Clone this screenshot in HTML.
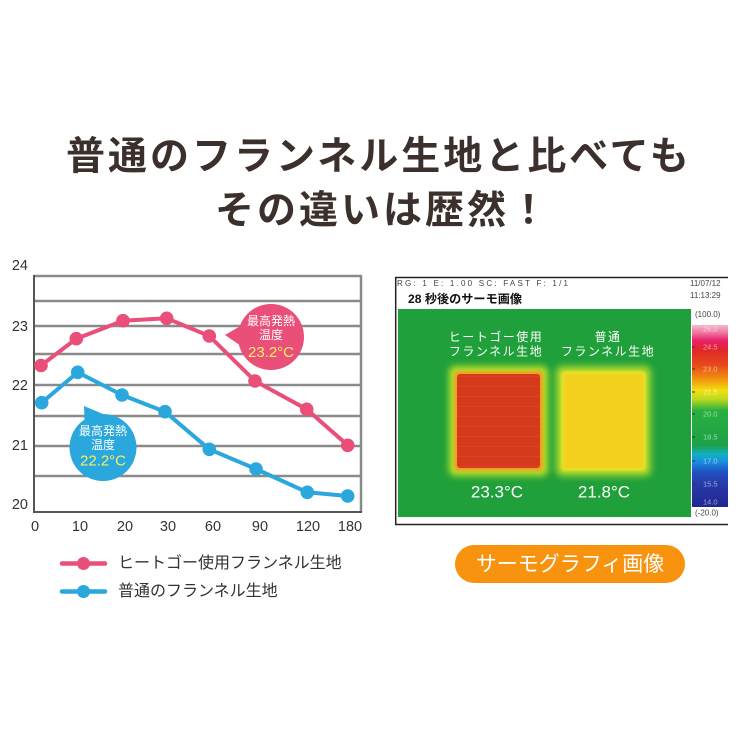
<!DOCTYPE html>
<html><head><meta charset="utf-8"><style>
html,body{margin:0;padding:0;background:#fff;}
svg{display:block;}
</style></head><body>
<svg width="750" height="750" viewBox="0 0 750 750" xmlns="http://www.w3.org/2000/svg">
<defs>
<linearGradient id="cb" x1="0" y1="0" x2="0" y2="1">
<stop offset="0" stop-color="#f4bcc8"/>
<stop offset="0.045" stop-color="#f070a0"/>
<stop offset="0.085" stop-color="#e8206a"/>
<stop offset="0.14" stop-color="#e02828"/>
<stop offset="0.22" stop-color="#e64a1a"/>
<stop offset="0.29" stop-color="#f08a10"/>
<stop offset="0.36" stop-color="#f2e010"/>
<stop offset="0.41" stop-color="#b8d820"/>
<stop offset="0.47" stop-color="#28b040"/>
<stop offset="0.66" stop-color="#1ea048"/>
<stop offset="0.71" stop-color="#10b0c0"/>
<stop offset="0.75" stop-color="#1890e0"/>
<stop offset="0.81" stop-color="#2050c0"/>
<stop offset="0.88" stop-color="#2838a8"/>
<stop offset="1" stop-color="#202890"/>
</linearGradient>
<filter id="blur3" x="-20%" y="-20%" width="140%" height="140%"><feGaussianBlur stdDeviation="3.5"/></filter>
<filter id="blur1" x="-20%" y="-20%" width="140%" height="140%"><feGaussianBlur stdDeviation="1.2"/></filter>
<pattern id="stripes" width="10" height="10" patternUnits="userSpaceOnUse">
<rect width="10" height="10" fill="#d63a1c"/>
<rect y="6" width="10" height="1" fill="#e0562a" opacity="0.35"/>
</pattern>
</defs>

<!-- Title -->
<g font-family="'Liberation Sans','Noto Sans CJK JP',sans-serif" font-weight="bold" fill="#3b302b" font-size="39" letter-spacing="3">
<text x="66" y="157" dominant-baseline="central">普通のフランネル生地と比べても</text>
<text x="215" y="211" dominant-baseline="central">その違いは歴然！</text>
</g>

<!-- Chart grid -->
<g stroke="#8a8a8a" stroke-width="2.5">
<line x1="34" y1="276" x2="361" y2="276"/>
<line x1="34" y1="301" x2="361" y2="301"/>
<line x1="34" y1="326" x2="361" y2="326"/>
<line x1="34" y1="354" x2="361" y2="354"/>
<line x1="34" y1="385" x2="361" y2="385"/>
<line x1="34" y1="416" x2="361" y2="416"/>
<line x1="34" y1="446" x2="361" y2="446"/>
<line x1="34" y1="476" x2="361" y2="476"/>
<line x1="361" y1="275" x2="361" y2="512"/>
</g>
<g stroke="#555" stroke-width="2">
<line x1="34" y1="275" x2="34" y2="513"/>
<line x1="33" y1="512" x2="362" y2="512"/>
</g>

<!-- Axis labels -->
<g font-family="'Liberation Sans',sans-serif" font-size="14.5" fill="#333" dominant-baseline="central">
<text x="28" y="266" text-anchor="end">24</text>
<text x="28" y="327" text-anchor="end">23</text>
<text x="28" y="386" text-anchor="end">22</text>
<text x="28" y="446" text-anchor="end">21</text>
<text x="28" y="505" text-anchor="end">20</text>
</g>
<g font-family="'Liberation Sans',sans-serif" font-size="14.5" fill="#333" text-anchor="middle" dominant-baseline="central">
<text x="35" y="527">0</text>
<text x="80" y="527">10</text>
<text x="125" y="527">20</text>
<text x="168" y="527">30</text>
<text x="213" y="527">60</text>
<text x="260" y="527">90</text>
<text x="308" y="527">120</text>
<text x="350" y="527">180</text>
</g>

<!-- Pink series -->
<polyline fill="none" stroke="#ea4f79" stroke-width="4" stroke-linejoin="round" points="41,365.5 76.3,338.7 123,320.7 166.7,318.3 209.3,336 255,381 306.7,409.3 347.7,445.3"/>
<g fill="#ea4f79">
<circle cx="41" cy="365.5" r="6.8"/><circle cx="76.3" cy="338.7" r="6.8"/><circle cx="123" cy="320.7" r="6.8"/><circle cx="166.7" cy="318.3" r="6.8"/><circle cx="209.3" cy="336" r="6.8"/><circle cx="255" cy="381" r="6.8"/><circle cx="306.7" cy="409.3" r="6.8"/><circle cx="347.7" cy="445.3" r="6.8"/>
</g>
<!-- Blue series -->
<polyline fill="none" stroke="#2aa7dd" stroke-width="4" stroke-linejoin="round" points="41.7,402.7 77.7,372.3 122,395 165,411.7 209.3,449.3 256,469 307.3,492.3 347.7,496"/>
<g fill="#2aa7dd">
<circle cx="41.7" cy="402.7" r="6.8"/><circle cx="77.7" cy="372.3" r="6.8"/><circle cx="122" cy="395" r="6.8"/><circle cx="165" cy="411.7" r="6.8"/><circle cx="209.3" cy="449.3" r="6.8"/><circle cx="256" cy="469" r="6.8"/><circle cx="307.3" cy="492.3" r="6.8"/><circle cx="347.7" cy="496" r="6.8"/>
</g>

<!-- Pink bubble -->
<polygon points="225,335 244,324 244,348" fill="#ea4f79"/>
<circle cx="271" cy="337" r="33" fill="#ea4f79"/>
<g font-family="'Liberation Sans','Noto Sans CJK JP',sans-serif" text-anchor="middle" dominant-baseline="central">
<text x="271" y="321" font-size="12" fill="#fff">最高発熱</text>
<text x="271" y="335" font-size="12" fill="#fff">温度</text>
<text x="271" y="352.5" font-size="15" fill="#f8ef60">23.2°C</text>
</g>

<!-- Blue bubble -->
<polygon points="84,406 85,433 110,417" fill="#2aa7dd"/>
<circle cx="103" cy="447.5" r="33.5" fill="#2aa7dd"/>
<g font-family="'Liberation Sans','Noto Sans CJK JP',sans-serif" text-anchor="middle" dominant-baseline="central">
<text x="103" y="431" font-size="12" fill="#fff">最高発熱</text>
<text x="103" y="445" font-size="12" fill="#fff">温度</text>
<text x="103" y="461" font-size="15" fill="#f8ef60">22.2°C</text>
</g>

<!-- Legend -->
<line x1="62" y1="563.5" x2="105" y2="563.5" stroke="#ea4f79" stroke-width="4.5" stroke-linecap="round"/>
<circle cx="83.5" cy="563.5" r="6.5" fill="#ea4f79"/>
<line x1="62" y1="591.5" x2="105" y2="591.5" stroke="#2aa7dd" stroke-width="4.5" stroke-linecap="round"/>
<circle cx="83.5" cy="591.5" r="6.5" fill="#2aa7dd"/>
<g font-family="'Liberation Sans','Noto Sans CJK JP',sans-serif" font-size="16" fill="#333" dominant-baseline="central">
<text x="118" y="563.5">ヒートゴー使用フランネル生地</text>
<text x="118" y="591.5">普通のフランネル生地</text>
</g>

<!-- Orange button -->
<rect x="455" y="545" width="230" height="38" rx="19" fill="#f7930e"/>
<text x="570" y="564.5" font-family="'Liberation Sans','Noto Sans CJK JP',sans-serif" font-size="21" fill="#fff" text-anchor="middle" dominant-baseline="central">サーモグラフィ画像</text>

<!-- Thermal image -->
<rect x="395" y="277" width="333" height="248" fill="#fff"/>
<line x1="395" y1="277.5" x2="728" y2="277.5" stroke="#222" stroke-width="1.5"/>
<line x1="395" y1="524.5" x2="728" y2="524.5" stroke="#222" stroke-width="1.5"/>
<line x1="395.7" y1="277" x2="395.7" y2="525" stroke="#222" stroke-width="1.5"/>
<rect x="398" y="309" width="293" height="208" fill="#20a03a"/>
<g font-family="'Liberation Sans',sans-serif" font-size="8" fill="#444">
<text x="397" y="286" textLength="171" lengthAdjust="spacing">RG: 1  E: 1.00  SC: FAST  F: 1/1</text>
<text x="690" y="286">11/07/12</text>
<text x="690" y="298">11:13:29</text>
<text x="695" y="317">(100.0)</text>
<text x="695" y="515.5">(-20.0)</text>
</g>
<text x="408" y="303" font-family="'Liberation Sans','Noto Sans CJK JP',sans-serif" font-size="12" font-weight="bold" fill="#111" textLength="114" lengthAdjust="spacingAndGlyphs">28 秒後のサーモ画像</text>

<!-- colorbar -->
<rect x="692" y="325" width="36" height="182" fill="url(#cb)"/>
<g stroke="#333" stroke-width="1">
<line x1="692" y1="347" x2="695" y2="347"/><line x1="692" y1="369" x2="695" y2="369"/><line x1="692" y1="392" x2="695" y2="392"/><line x1="692" y1="414" x2="695" y2="414"/><line x1="692" y1="437" x2="695" y2="437"/><line x1="692" y1="461" x2="695" y2="461"/><line x1="692" y1="484" x2="695" y2="484"/>
</g>
<g font-family="'Liberation Sans',sans-serif" font-size="7.5" fill="#fff" opacity="0.55" dominant-baseline="central">
<text x="703" y="329">26.0</text>
<text x="703" y="347">24.5</text>
<text x="703" y="369">23.0</text>
<text x="703" y="392">21.5</text>
<text x="703" y="414">20.0</text>
<text x="703" y="437">18.5</text>
<text x="703" y="461">17.0</text>
<text x="703" y="484">15.5</text>
<text x="703" y="502">14.0</text>
</g>

<!-- thermal blocks -->
<rect x="449" y="366" width="99" height="110" rx="6" fill="#b8e02a" filter="url(#blur3)"/>
<rect x="454" y="371" width="89" height="100" rx="4" fill="#f0a020" filter="url(#blur1)"/>
<rect x="457" y="374" width="83" height="94" rx="3" fill="url(#stripes)"/>
<rect x="556" y="366" width="95" height="110" rx="6" fill="#a8d830" filter="url(#blur3)"/>
<rect x="561" y="371" width="85" height="100" rx="4" fill="#e8e020" filter="url(#blur1)"/>
<rect x="564" y="374" width="79" height="94" rx="3" fill="#f2d01e"/>

<g font-family="'Liberation Sans','Noto Sans CJK JP',sans-serif" font-size="12" fill="#fff" text-anchor="middle" dominant-baseline="central" letter-spacing="1.5">
<text x="496" y="337">ヒートゴー使用</text>
<text x="496" y="351.5">フランネル生地</text>
<text x="608" y="337">普通</text>
<text x="608" y="351.5">フランネル生地</text>
</g>
<g font-family="'Liberation Sans',sans-serif" font-size="17" fill="#fff" text-anchor="middle" dominant-baseline="central">
<text x="497" y="492">23.3°C</text>
<text x="604" y="492">21.8°C</text>
</g>
</svg>
</body></html>
